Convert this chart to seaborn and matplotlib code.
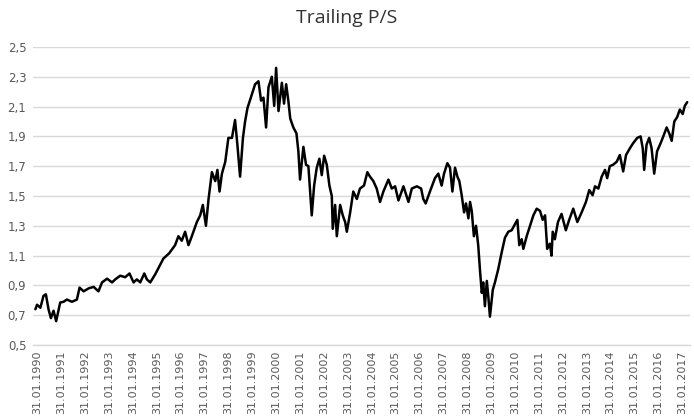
import numpy as np
import pandas as pd
import matplotlib
matplotlib.use("Agg")
import matplotlib.pyplot as plt
import matplotlib.ticker as mticker
import seaborn as sns

title = "Trailing P/S"

# decimal years
years = [
    1990.00, 1990.07, 1990.21, 1990.34, 1990.44, 1990.55, 1990.65, 1990.76, 1990.87,
    1991.04, 1991.18, 1991.32, 1991.53, 1991.74, 1991.85, 1992.02, 1992.23, 1992.44,
    1992.64, 1992.79, 1993.00, 1993.21, 1993.34, 1993.55, 1993.76, 1993.94, 1994.11,
    1994.25, 1994.39, 1994.56, 1994.67, 1994.81, 1995.02, 1995.23, 1995.36, 1995.60,
    1995.85, 1995.99, 1996.13, 1996.27, 1996.41, 1996.55, 1996.76, 1996.90, 1997.01,
    1997.14, 1997.25, 1997.39, 1997.53, 1997.62, 1997.71, 1997.81, 1997.95, 1998.08,
    1998.23, 1998.36, 1998.46, 1998.57, 1998.69, 1998.78, 1998.88, 1999.06, 1999.20,
    1999.34, 1999.45, 1999.55, 1999.66, 1999.76, 1999.90, 2000.00, 2000.08, 2000.18,
    2000.32, 2000.41, 2000.50, 2000.59, 2000.67, 2000.80, 2000.93, 2001.01, 2001.08,
    2001.22, 2001.33, 2001.43, 2001.57, 2001.67, 2001.78, 2001.89, 2001.99, 2002.09,
    2002.20, 2002.31, 2002.41, 2002.45, 2002.55, 2002.62, 2002.76, 2002.87, 2002.97,
    2003.04, 2003.18, 2003.31, 2003.46, 2003.59, 2003.76, 2003.90, 2004.01, 2004.15,
    2004.29, 2004.43, 2004.57, 2004.78, 2004.92, 2005.06, 2005.20, 2005.41, 2005.62,
    2005.76, 2005.97, 2006.15, 2006.24, 2006.34, 2006.52, 2006.73, 2006.87, 2007.01,
    2007.11, 2007.25, 2007.36, 2007.46, 2007.57, 2007.67, 2007.75, 2007.85, 2007.95,
    2008.03, 2008.13, 2008.20, 2008.27, 2008.36, 2008.45, 2008.54, 2008.62, 2008.69,
    2008.75, 2008.82, 2008.90, 2008.96, 2009.03, 2009.15, 2009.24, 2009.38, 2009.52,
    2009.66, 2009.80, 2009.94, 2010.08, 2010.18, 2010.26, 2010.36, 2010.43, 2010.57,
    2010.71, 2010.85, 2010.99, 2011.13, 2011.24, 2011.34, 2011.43, 2011.54, 2011.61,
    2011.66, 2011.75, 2011.88, 2012.03, 2012.21, 2012.35, 2012.52, 2012.69, 2012.87,
    2013.05, 2013.19, 2013.33, 2013.43, 2013.57, 2013.71, 2013.85, 2013.94, 2014.05,
    2014.19, 2014.34, 2014.47, 2014.61, 2014.73, 2014.89, 2015.03, 2015.20, 2015.34,
    2015.43, 2015.49, 2015.59, 2015.70, 2015.80, 2015.91, 2016.03, 2016.18, 2016.29,
    2016.43, 2016.54, 2016.64, 2016.75, 2016.87, 2016.98, 2017.10, 2017.19, 2017.29,
]

ps_values = [
    0.74, 0.77, 0.75, 0.83, 0.84, 0.74, 0.68, 0.73, 0.66,
    0.785, 0.79, 0.805, 0.79, 0.805, 0.885, 0.86, 0.88, 0.89,
    0.86, 0.92, 0.945, 0.92, 0.94, 0.965, 0.955, 0.98, 0.92,
    0.94, 0.92, 0.98, 0.94, 0.92, 0.975, 1.04, 1.08, 1.115,
    1.17, 1.23, 1.20, 1.26, 1.17, 1.23, 1.325, 1.37, 1.44,
    1.30, 1.48, 1.66, 1.60, 1.675, 1.53, 1.65, 1.73, 1.89,
    1.89, 2.01, 1.84, 1.63, 1.89, 2.00, 2.09, 2.18, 2.25,
    2.27, 2.14, 2.16, 1.96, 2.23, 2.30, 2.105, 2.36, 2.07,
    2.26, 2.12, 2.25, 2.14, 2.02, 1.96, 1.92, 1.80, 1.61,
    1.83, 1.71, 1.70, 1.37, 1.57, 1.69, 1.75, 1.64, 1.77,
    1.71, 1.57, 1.50, 1.28, 1.44, 1.23, 1.44, 1.37, 1.325,
    1.26, 1.39, 1.53, 1.48, 1.55, 1.57, 1.66, 1.63, 1.60,
    1.55, 1.46, 1.53, 1.61, 1.55, 1.565, 1.47, 1.565, 1.46,
    1.55, 1.565, 1.55, 1.48, 1.45, 1.53, 1.62, 1.65, 1.57,
    1.65, 1.72, 1.69, 1.53, 1.69, 1.63, 1.60, 1.505, 1.39,
    1.45, 1.35, 1.46, 1.40, 1.23, 1.30, 1.17, 0.99, 0.85,
    0.92, 0.76, 0.93, 0.83, 0.69, 0.87, 0.92, 1.01, 1.12,
    1.22, 1.26, 1.27, 1.31, 1.34, 1.17, 1.21, 1.145, 1.23,
    1.30, 1.37, 1.415, 1.40, 1.34, 1.37, 1.145, 1.18, 1.10,
    1.26, 1.21, 1.325, 1.38, 1.27, 1.34, 1.415, 1.325, 1.39,
    1.46, 1.54, 1.505, 1.565, 1.55, 1.63, 1.675, 1.62, 1.70,
    1.71, 1.73, 1.775, 1.665, 1.775, 1.82, 1.855, 1.89, 1.90,
    1.82, 1.675, 1.845, 1.89, 1.82, 1.65, 1.80, 1.855, 1.90,
    1.96, 1.92, 1.87, 2.00, 2.03, 2.08, 2.05, 2.105, 2.13,
]

tick_years = list(range(1990, 2018))
y_ticks = [0.5, 0.7, 0.9, 1.1, 1.3, 1.5, 1.7, 1.9, 2.1, 2.3, 2.5]


def dec_to_date(d):
    y = int(np.floor(d))
    start = pd.Timestamp(y, 1, 1)
    end = pd.Timestamp(y + 1, 1, 1)
    return start + (end - start) * (d - y)


df = pd.DataFrame({"date": [dec_to_date(v) for v in years], "ps": ps_values})

sns.set_style("white")
plt.rcParams["font.family"] = ["DejaVu Sans"]

fig = plt.figure(figsize=(6.94, 4.17), dpi=100)
ax = fig.add_axes([0.048, 0.1727, 0.946, 0.7146])

sns.lineplot(data=df, x="date", y="ps", color="black", linewidth=1.8, ax=ax)

ax.set_ylim(0.5, 2.5)
ax.set_yticks(y_ticks)
ax.yaxis.set_major_formatter(mticker.FuncFormatter(lambda v, p: f"{v:.1f}".replace(".", ",")))
ax.grid(axis="y", color="#d9d9d9", linewidth=1)
ax.grid(axis="x", visible=False)

ticks = [pd.Timestamp(y, 1, 31) for y in tick_years]
ax.set_xticks(ticks)
ax.set_xticklabels([t.strftime("%d.%m.%Y") for t in ticks], rotation=90)
ax.set_xlim(dec_to_date(1989.913), dec_to_date(2017.40))

for s in ["top", "right", "left"]:
    ax.spines[s].set_visible(False)
ax.spines["bottom"].set_color("#d9d9d9")
ax.spines["bottom"].set_linewidth(1)

ax.tick_params(axis="both", length=0, colors="#595959")
ax.tick_params(axis="x", pad=4, labelsize=8)
ax.tick_params(axis="y", pad=5, labelsize=8.5)
ax.set_xlabel("")
ax.set_ylabel("")
fig.text(0.5, 0.958, title, ha="center", va="center", fontsize=14, color="#333333",
         family=["Open Sans", "DejaVu Sans"])

fig.savefig("out.png", dpi=100)
